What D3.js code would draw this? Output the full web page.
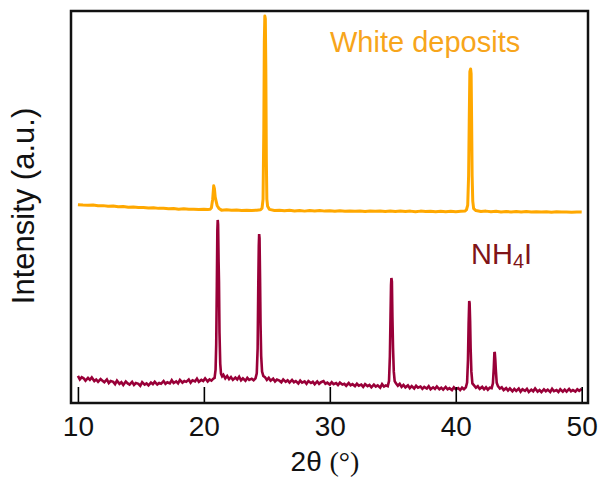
<!DOCTYPE html>
<html>
<head>
<meta charset="utf-8">
<script src="https://cdn.jsdelivr.net/npm/d3@7"></script>
<style>
  body { margin: 0; background: #fff; }
  svg { display: block; font-family: "Liberation Sans", Arial, sans-serif; }
</style>
</head>
<body>
<script>
// XRD patterns, [2theta, intensity a.u.] (intensity already stacked)
const depositsPattern = [
  [10.0, 50.6], [10.4, 50.5], [10.8, 50.45], [11.2, 50.5], [11.6, 50.3], [12.0, 50.35], [12.4, 50.2],
  [12.8, 50.25], [13.2, 50.05], [13.6, 50.15], [14.0, 49.95], [14.4, 50.0], [14.8, 49.85], [15.2, 49.9],
  [15.6, 49.75], [16.0, 49.8], [16.4, 49.65], [16.8, 49.7], [17.2, 49.55], [17.6, 49.6], [18.0, 49.45],
  [18.4, 49.55], [18.8, 49.4], [19.2, 49.45], [19.6, 49.35], [20.0, 49.45], [20.3, 49.35], [20.5, 49.45],
  [20.6, 49.8], [20.7, 52.0], [20.78, 55.4], [20.84, 54.6], [20.9, 52.5], [20.97, 51.5],
  [21.05, 50.4], [21.2, 49.6], [21.4, 49.2], [21.8, 49.3], [22.2, 49.15], [22.6, 49.25], [23.0, 49.1],
  [23.4, 49.2], [23.8, 49.1], [24.2, 49.2], [24.5, 49.3], [24.62, 49.7],
  [24.7, 52.0], [24.76, 70.0], [24.8, 92.0], [24.84, 98.7], [24.88, 98.0], [24.92, 85.0], [24.96, 62.0],
  [25.0, 52.0], [25.06, 50.2], [25.2, 49.4], [25.6, 49.1], [26.0, 49.2], [26.4, 49.05], [26.8, 49.15],
  [27.2, 49.0], [27.6, 49.1], [28.0, 48.95], [28.4, 49.1], [28.8, 49.0], [29.2, 49.1], [29.6, 48.95],
  [30.0, 49.05], [30.4, 48.9], [30.8, 49.05], [31.2, 48.9], [31.6, 49.0], [32.0, 48.9], [32.4, 49.0],
  [32.8, 48.85], [33.2, 49.0], [33.6, 48.9], [34.0, 48.95], [34.4, 48.85], [34.8, 48.95], [35.2, 48.85],
  [35.6, 48.95], [36.0, 48.85], [36.4, 48.95], [36.8, 48.8], [37.2, 48.95], [37.6, 48.85], [38.0, 48.9],
  [38.4, 48.8], [38.8, 48.9], [39.2, 48.8], [39.6, 48.9], [40.0, 48.8], [40.4, 48.9], [40.75, 49.0],
  [40.85, 49.3], [40.95, 50.5], [41.02, 58.0], [41.07, 72.0], [41.12, 84.5], [41.18, 85.2], [41.22, 84.0],
  [41.26, 72.0], [41.3, 58.0], [41.35, 51.5], [41.42, 49.6], [41.6, 49.1], [42.0, 48.85], [42.4, 48.95],
  [42.8, 48.8], [43.2, 48.9], [43.6, 48.75], [44.0, 48.85], [44.4, 48.75], [44.8, 48.85], [45.2, 48.7],
  [45.6, 48.85], [46.0, 48.7], [46.4, 48.8], [46.8, 48.7], [47.2, 48.8], [47.6, 48.65], [48.0, 48.8],
  [48.4, 48.7], [48.8, 48.75], [49.2, 48.65], [49.6, 48.75], [50.0, 48.7]
];

const nh4iPattern = [
  [10.0, 6.9], [10.15, 6.0], [10.3, 6.6], [10.45, 6.3], [10.6, 5.7], [10.8, 6.4], [10.95, 5.9],
  [11.1, 6.5], [11.3, 5.6], [11.45, 6.0], [11.6, 5.4], [11.8, 6.1], [11.95, 5.7], [12.1, 5.3],
  [12.3, 6.0], [12.45, 5.1], [12.6, 5.6], [12.8, 5.4], [12.95, 4.8], [13.1, 5.7], [13.3, 4.9],
  [13.45, 5.3], [13.6, 4.6], [13.8, 5.5], [13.95, 5.0], [14.1, 4.7], [14.3, 5.4], [14.45, 4.6],
  [14.6, 5.1], [14.8, 4.9], [14.95, 4.4], [15.1, 5.3], [15.3, 4.7], [15.45, 5.0], [15.6, 4.5],
  [15.8, 5.2], [15.95, 4.8], [16.1, 5.4], [16.3, 4.7], [16.45, 5.1], [16.6, 4.9], [16.8, 5.6],
  [16.95, 4.9], [17.1, 5.3], [17.3, 5.0], [17.45, 5.8], [17.6, 5.1], [17.8, 5.5], [17.95, 5.0],
  [18.1, 5.9], [18.3, 5.2], [18.45, 5.6], [18.6, 5.4], [18.8, 6.0], [18.95, 5.2], [19.1, 5.8],
  [19.3, 5.5], [19.45, 6.2], [19.6, 5.4], [19.8, 5.9], [19.95, 5.6], [20.1, 6.3], [20.3, 5.5],
  [20.45, 6.0], [20.6, 5.7], [20.75, 6.2], [20.85, 6.4], [20.93, 8.5], [20.98, 15.0], [21.03, 30.0],
  [21.07, 44.0], [21.1, 46.7], [21.13, 45.5], [21.17, 36.0], [21.2, 31.0], [21.24, 18.0], [21.3, 10.0],
  [21.36, 7.5], [21.45, 6.8], [21.55, 7.2], [21.7, 6.3], [21.85, 6.9], [22.0, 6.1], [22.15, 6.6],
  [22.3, 5.9], [22.5, 6.5], [22.65, 6.0], [22.8, 6.7], [22.95, 5.8], [23.1, 6.3], [23.3, 5.7],
  [23.45, 6.4], [23.6, 5.9], [23.8, 6.2], [23.95, 5.8], [24.1, 6.3], [24.2, 7.6], [24.27, 14.0],
  [24.32, 30.0], [24.36, 40.0], [24.39, 43.1], [24.42, 42.0], [24.46, 32.0], [24.5, 20.0], [24.55, 12.0],
  [24.62, 8.0], [24.72, 6.9], [24.85, 6.6], [25.0, 5.9], [25.15, 6.4], [25.3, 5.7], [25.5, 6.2],
  [25.65, 5.5], [25.8, 6.0], [26.0, 5.7], [26.15, 5.3], [26.3, 6.0], [26.5, 5.4], [26.65, 5.8],
  [26.8, 5.2], [27.0, 5.9], [27.15, 5.3], [27.3, 5.6], [27.5, 5.0], [27.65, 5.7], [27.8, 5.2],
  [28.0, 5.5], [28.15, 4.9], [28.3, 5.6], [28.5, 5.1], [28.65, 5.4], [28.8, 4.8], [29.0, 5.5],
  [29.15, 4.9], [29.3, 5.3], [29.5, 5.6], [29.65, 4.9], [29.8, 5.2], [30.0, 4.7], [30.15, 5.3],
  [30.3, 4.8], [30.5, 5.1], [30.65, 4.6], [30.8, 5.2], [31.0, 4.7], [31.15, 4.9], [31.3, 4.4],
  [31.5, 5.1], [31.65, 4.5], [31.8, 4.8], [32.0, 4.3], [32.15, 4.9], [32.3, 4.4], [32.5, 4.7],
  [32.65, 4.1], [32.8, 4.8], [33.0, 4.3], [33.15, 4.6], [33.3, 4.0], [33.5, 4.7], [33.65, 4.2],
  [33.8, 4.5], [34.0, 3.9], [34.15, 4.8], [34.3, 4.2], [34.45, 4.5], [34.6, 4.3], [34.7, 5.6],
  [34.77, 12.0], [34.82, 22.0], [34.86, 30.0], [34.89, 31.9], [34.93, 31.0], [34.97, 22.0], [35.02, 14.0],
  [35.08, 8.0], [35.15, 5.6], [35.25, 5.0], [35.4, 4.4], [35.55, 4.9], [35.7, 4.1], [35.85, 4.6],
  [36.0, 4.0], [36.2, 4.5], [36.35, 3.8], [36.5, 4.3], [36.7, 3.7], [36.85, 4.4], [37.0, 3.9],
  [37.2, 4.2], [37.35, 3.6], [37.5, 4.1], [37.7, 3.7], [37.85, 4.3], [38.0, 3.5], [38.2, 4.0],
  [38.35, 3.6], [38.5, 4.2], [38.7, 3.5], [38.85, 3.9], [39.0, 3.4], [39.2, 4.1], [39.35, 3.5],
  [39.5, 3.8], [39.7, 3.3], [39.85, 4.0], [40.0, 3.5], [40.2, 3.8], [40.35, 3.3], [40.5, 3.9],
  [40.65, 3.5], [40.8, 4.0], [40.9, 5.2], [40.97, 11.0], [41.02, 20.0], [41.07, 26.0], [41.1, 25.5],
  [41.14, 21.0], [41.18, 14.0], [41.24, 8.0], [41.32, 5.0], [41.45, 4.5], [41.6, 3.9], [41.75, 4.3],
  [41.9, 3.6], [42.1, 4.1], [42.25, 3.5], [42.4, 4.0], [42.55, 3.4], [42.7, 3.9], [42.85, 3.8],
  [42.95, 5.0], [43.02, 9.0], [43.07, 13.0], [43.1, 12.8], [43.14, 11.0], [43.18, 8.5], [43.25, 5.2],
  [43.35, 4.3], [43.5, 3.7], [43.65, 4.0], [43.8, 3.3], [44.0, 3.8], [44.15, 3.2], [44.3, 3.7],
  [44.5, 3.0], [44.65, 3.6], [44.8, 3.1], [45.0, 3.7], [45.15, 2.9], [45.3, 3.5], [45.5, 3.1],
  [45.65, 3.6], [45.8, 2.8], [46.0, 3.4], [46.15, 3.0], [46.3, 3.7], [46.5, 2.9], [46.65, 3.3],
  [46.8, 2.8], [47.0, 3.5], [47.15, 3.0], [47.3, 3.4], [47.5, 2.8], [47.65, 3.6], [47.8, 3.0],
  [48.0, 3.3], [48.15, 2.8], [48.3, 3.5], [48.5, 2.9], [48.65, 3.4], [48.8, 2.9], [49.0, 3.6],
  [49.15, 3.0], [49.3, 3.3], [49.5, 2.9], [49.65, 3.5], [49.8, 3.1], [50.0, 3.6]
];

const xTicks = [10, 20, 30, 40, 50];
const xDomain = [9.45, 50.5];
const yDomain = [0, 100];

const W = 603, H = 479;
const plotLeft = 71, plotRight = 588, plotTop = 11, plotBottom = 403;

const svg = d3.select("body").append("svg")
  .attr("width", W)
  .attr("height", H);

const x = d3.scaleLinear().domain(xDomain).range([plotLeft, plotRight]);
const y = d3.scaleLinear().domain(yDomain).range([plotBottom, plotTop]);

const line = d3.line()
  .x(d => x(d[0]))
  .y(d => y(d[1]));

svg.append("path")
  .datum(depositsPattern)
  .attr("d", line)
  .attr("fill", "none")
  .attr("stroke", "#FFA800")
  .attr("stroke-width", 3)
  .attr("stroke-linejoin", "round");

svg.append("path")
  .datum(nh4iPattern)
  .attr("d", line)
  .attr("fill", "none")
  .attr("stroke", "#990038")
  .attr("stroke-width", 2.6)
  .attr("stroke-linejoin", "miter");

// bottom axis, ticks pointing into the plot
const xAxis = svg.append("g")
  .attr("transform", `translate(0, ${plotBottom})`)
  .call(d3.axisBottom(x).tickValues(xTicks).tickSizeInner(-16).tickSizeOuter(0).tickPadding(20));
xAxis.select(".domain").remove();
xAxis.selectAll(".tick line").attr("stroke", "#000").attr("stroke-width", 1.6);
xAxis.selectAll(".tick text")
  .attr("font-size", 28)
  .attr("font-family", "Liberation Sans, Arial, sans-serif")
  .attr("fill", "#111")
  .attr("dy", "0.71em")
  .attr("y", 13);

// frame
svg.append("rect")
  .attr("x", plotLeft)
  .attr("y", plotTop)
  .attr("width", plotRight - plotLeft)
  .attr("height", plotBottom - plotTop)
  .attr("fill", "none")
  .attr("stroke", "#111")
  .attr("stroke-width", 2.5);

// axis titles
const xt = svg.append("text")
  .attr("x", 325)
  .attr("y", 471)
  .attr("text-anchor", "middle")
  .attr("font-size", 28)
  .attr("fill", "#111");
xt.append("tspan").text("2θ ");
xt.append("tspan").attr("font-family", "Liberation Serif, Times New Roman, serif").text("(°)");

svg.append("text")
  .attr("transform", "translate(34, 206) rotate(-90)")
  .attr("text-anchor", "middle")
  .attr("font-size", 31)
  .attr("fill", "#111")
  .text("Intensity (a.u.)");

// series labels
svg.append("text")
  .attr("x", 330)
  .attr("y", 52)
  .attr("font-size", 29)
  .attr("fill", "#F7A51B")
  .text("White deposits");

const nl = svg.append("text")
  .attr("x", 471)
  .attr("y", 264)
  .attr("font-size", 29)
  .attr("fill", "#7F1418");
nl.append("tspan").text("NH");
nl.append("tspan").attr("font-size", 20).attr("dy", 4).text("4");
nl.append("tspan").attr("dy", -4).text("I");
</script>
</body>
</html>
